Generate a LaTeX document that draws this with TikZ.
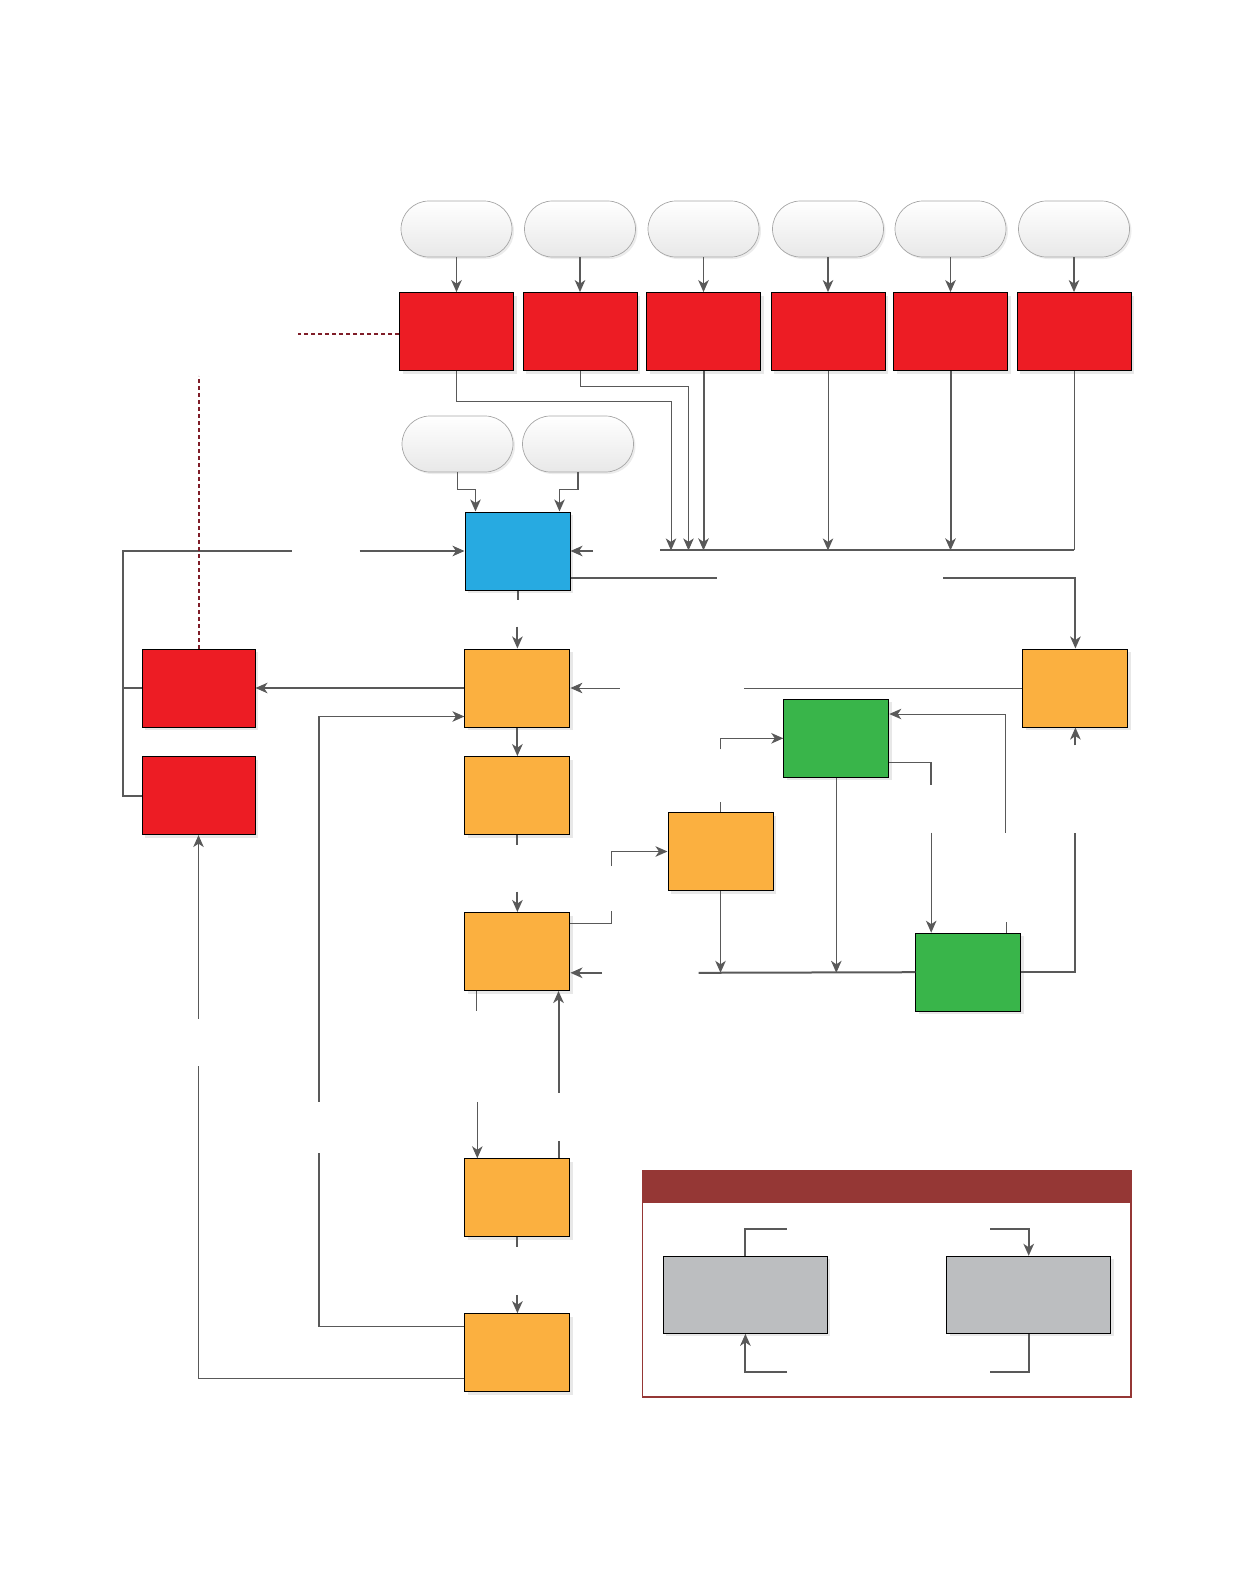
\documentclass[tikz,border=0pt]{standalone}
\usetikzlibrary{arrows.meta,shapes.misc,shadows,calc}
\definecolor{boxred}{HTML}{ED1C24}
\definecolor{boxorange}{HTML}{FBB040}
\definecolor{boxblue}{HTML}{27AAE1}
\definecolor{boxgreen}{HTML}{39B54A}
\definecolor{boxgrey}{HTML}{BCBEC0}
\definecolor{keyred}{HTML}{953735}
\definecolor{wire}{HTML}{595959}
\definecolor{dashred}{HTML}{7F1D28}

\begin{document}
\begin{tikzpicture}[
  x=1pt, y=-1pt,
  blk/.style={draw=black, line width=1pt, inner sep=0pt, minimum width=105pt, minimum height=78pt,
    drop shadow={shadow xshift=3pt, shadow yshift=-3pt, fill=black!15, opacity=0.6}},
  redbox/.style={blk, fill=boxred, minimum width=114pt},
  orbox/.style={blk, fill=boxorange},
  bluebox/.style={blk, fill=boxblue},
  grnbox/.style={blk, fill=boxgreen},
  greybox/.style={blk, fill=boxgrey, minimum width=164pt, minimum height=77pt},
  pill/.style={rounded rectangle, draw=black!35, line width=0.7pt, inner sep=0pt,
    minimum width=111pt, minimum height=56pt, top color=white, bottom color=black!9,
    drop shadow={shadow xshift=2pt, shadow yshift=-2pt, fill=black!12, opacity=0.6}},
  ln/.style={draw=wire, line width=1pt},
  lnmid/.style={draw=wire, line width=1.5pt},
  lnthk/.style={draw=wire, line width=2pt},
  tip/.style={-{Stealth[length=12pt,width=10.5pt,inset=3.5pt]}},
  arr/.style={ln, tip},
  arrmid/.style={lnmid, tip},
  arrthk/.style={lnthk, tip},
  dashln/.style={draw=dashred, line width=1.5pt, dash pattern=on 4pt off 3pt}
]
\useasboundingbox (0,0) rectangle (1242,1593);

% top row of sources
\foreach \n/\x in {1/456.5,2/580,3/703.5,4/828,5/950.5,6/1074} {
  \node[pill] (p\n) at (\x,229) {};
  \node[redbox] (r\n) at (\x,331.6) {};
  \draw[arrmid] (p\n) -- (r\n);
}
\draw[dashln] ($(r1.west)+(0,2.5)$) -- ++(-101,0);

% hub and its inputs
\node[pill] (q1) at (457.5,444) {};
\node[pill] (q2) at (578,444) {};
\node[bluebox] (hub) at (517.5,551) {};
\draw[arrmid] (q1.south) -- ++(0,17) -| ($(hub.north)+(-42,0)$);
\draw[arrmid] (q2.south) -- ++(0,17) -| ($(hub.north)+(42,0)$);

% main column
\node[orbox] (o1) at (517.4,688) {};
\node[orbox] (o2) at (517.4,795.6) {};
\node[orbox] (o3) at (517.4,951.5) {};
\node[orbox] (o4) at (517.4,1197.8) {};
\node[orbox] (o5) at (517.4,1352.7) {};
\node[redbox, minimum width=113pt] (l1) at (198.5,688) {};
\node[redbox, minimum width=113pt] (l2) at (198.5,795.6) {};
\node[orbox] (oside) at (720.5,851.5) {};
\node[orbox] (oright) at (1075.4,688) {};
\node[grnbox] (g1) at (836.3,738.3) {};
\node[grnbox] (g2) at (968.3,972.2) {};

% collecting bus
\coordinate (b1) at (671,550.4);
\coordinate (b2) at (688.5,550.4);
\coordinate (busw) at (660,550.4);
\draw[arr] (r1.south) -- ++(0,30.3) -| (b1);
\draw[arr] (r2.south) -- ++(0,15.3) -| (b2);
\draw[arrthk] (r3.south) -- (r3.south|-b1);
\draw[arr] (r4.south) -- (r4.south|-b1);
\draw[arrthk] (r5.south) -- (r5.south|-b1);
\draw[ln] (r6.south) -- (r6.south|-b1);
\draw[lnthk] (r6.south|-b1) -- (busw);
\coordinate (hubin) at (593,551);
\draw[arrthk] (hubin) -- (hub.east);

% left feedback
\coordinate (lt) at (123,551);
\coordinate (lcut) at (291.5,551);
\coordinate (lres) at (359.5,551);
\draw[lnthk] (l1.west) -| (lt) -- (lcut);
\draw[lnthk] (l2.west) -| (lt);
\draw[arrthk] (lres) -- (hub.west);
\draw[dashln, line width=2pt] ($(l1.north)+(0.5,0)$) -- ++(0,-273);

% hub outputs
\coordinate (hubo) at (717,577.8);
\coordinate (rgo) at (943.4,577.8);
\draw[lnthk] (hub.east|-hubo) -- (hubo);
\draw[arrthk] (rgo) -| (oright.north);
\draw[lnthk] (hub.south) -- ++(0,9);
\coordinate (o1in) at (517.4,626.6);
\draw[arrthk] (o1in) -- (o1.north);

\draw[arrthk] (o1.west) -- (l1.east);
\coordinate (orcut) at (744.4,688);
\coordinate (o1r) at (619.5,688);
\draw[ln] (oright.west) -- (orcut);
\draw[arr] (o1r) -- (o1.east);
\coordinate (orb) at (1075.4,745.4);
\coordinate (g2up) at (1075.4,832.7);
\draw[arrthk] (orb) -- (oright.south);
\draw[lnthk] (g2.east) -| (g2up);

% long loops on the left
\coordinate (lp1a) at (318.9,1152.6);
\coordinate (lp1b) at (318.9,1101.8);
\draw[lnmid] ($(o5.north west)+(0,13.3)$) -| (lp1a);
\draw[arrmid] (lp1b) |- ($(o1.south west)+(0,-11)$);
\coordinate (lp2a) at (198.5,1066.3);
\coordinate (lp2b) at (198.5,1018.5);
\draw[ln] ($(o5.south west)+(0,-14)$) -| (lp2a);
\draw[arr] (lp2b) -- (l2.south);

\draw[arrthk] (o1.south) -- (o2.north);
\draw[lnthk] (o2.south) -- ++(0,10);
\coordinate (o3in) at (517.4,891.6);
\draw[arrthk] (o3in) -- (o3.north);

% right-hand block
\coordinate (s1a) at (611.3,911);
\coordinate (s1b) at (611.3,866);
\draw[ln] ($(o3.north east)+(0,11)$) -| (s1a);
\draw[arrmid] (s1b) |- (oside.west);
\draw[ln] (oside.north) -- ++(0,-10);
\coordinate (s2) at (720.5,749.4);
\draw[arrmid] (s2) |- (g1.west);
\coordinate (bus2) at (698.7,972.8);
\draw[arr] (g1.south) -- (g1.south|-bus2);
\draw[arr] (oside.south) -- (oside.south|-bus2);
\draw[lnthk] (g2.west) -- (bus2);
\coordinate (o3r) at (602,972.8);
\draw[arrthk] (o3r) -- (o3.east|-o3r);
\coordinate (s3a) at (931.2,785);
\coordinate (s3b) at (931.2,832.7);
\draw[lnmid] ($(g1.south east)+(0,-15.3)$) -| (s3a);
\draw[arr] (s3b) -- (s3b|-g2.north);
\draw[ln] ($(g2.north east)+(-15.3,0)$) -- ++(0,-11);
\coordinate (s4) at (1005.3,832.7);
\draw[arr] (s4) |- ($(g1.north east)+(0,15.2)$);

% lower column
\draw[ln] ($(o3.south west)+(12.3,0)$) -- ++(0,20);
\coordinate (s5) at (477.3,1101.8);
\draw[arr] (s5) -- (s5|-o4.north);
\coordinate (s6) at (558.5,1092.7);
\draw[arrthk] (s6) -- (s6|-o3.south);
\draw[lnthk] (s6|-o4.north) -- ++(0,-17.3);
\draw[lnthk] (o4.south) -- ++(0,10);
\coordinate (o5in) at (517.4,1294.8);
\draw[arrthk] (o5in) -- (o5.north);

% key
\node[draw=keyred, line width=1.5pt, inner sep=0pt, minimum width=488.5pt, minimum height=226.4pt,
  anchor=north west] (key) at (641.8,1169.9) {};
\fill[keyred] (key.north west) rectangle ++(488.5,33.5);
\node[greybox] (k1) at (745.4,1294.8) {};
\node[greybox] (k2) at (1028.7,1294.8) {};
\coordinate (kt1) at (787,1228.8);
\coordinate (kb1) at (787,1372);
\coordinate (kt2) at (990,1228.8);
\coordinate (kb2) at (990,1372);
\draw[lnthk] (k1.north) |- (kt1);
\draw[arrthk] (kb1) -| (k1.south);
\draw[arrthk] (kt2) -| (k2.north);
\draw[lnthk] (k2.south) |- (kb2);
\end{tikzpicture}
\end{document}
